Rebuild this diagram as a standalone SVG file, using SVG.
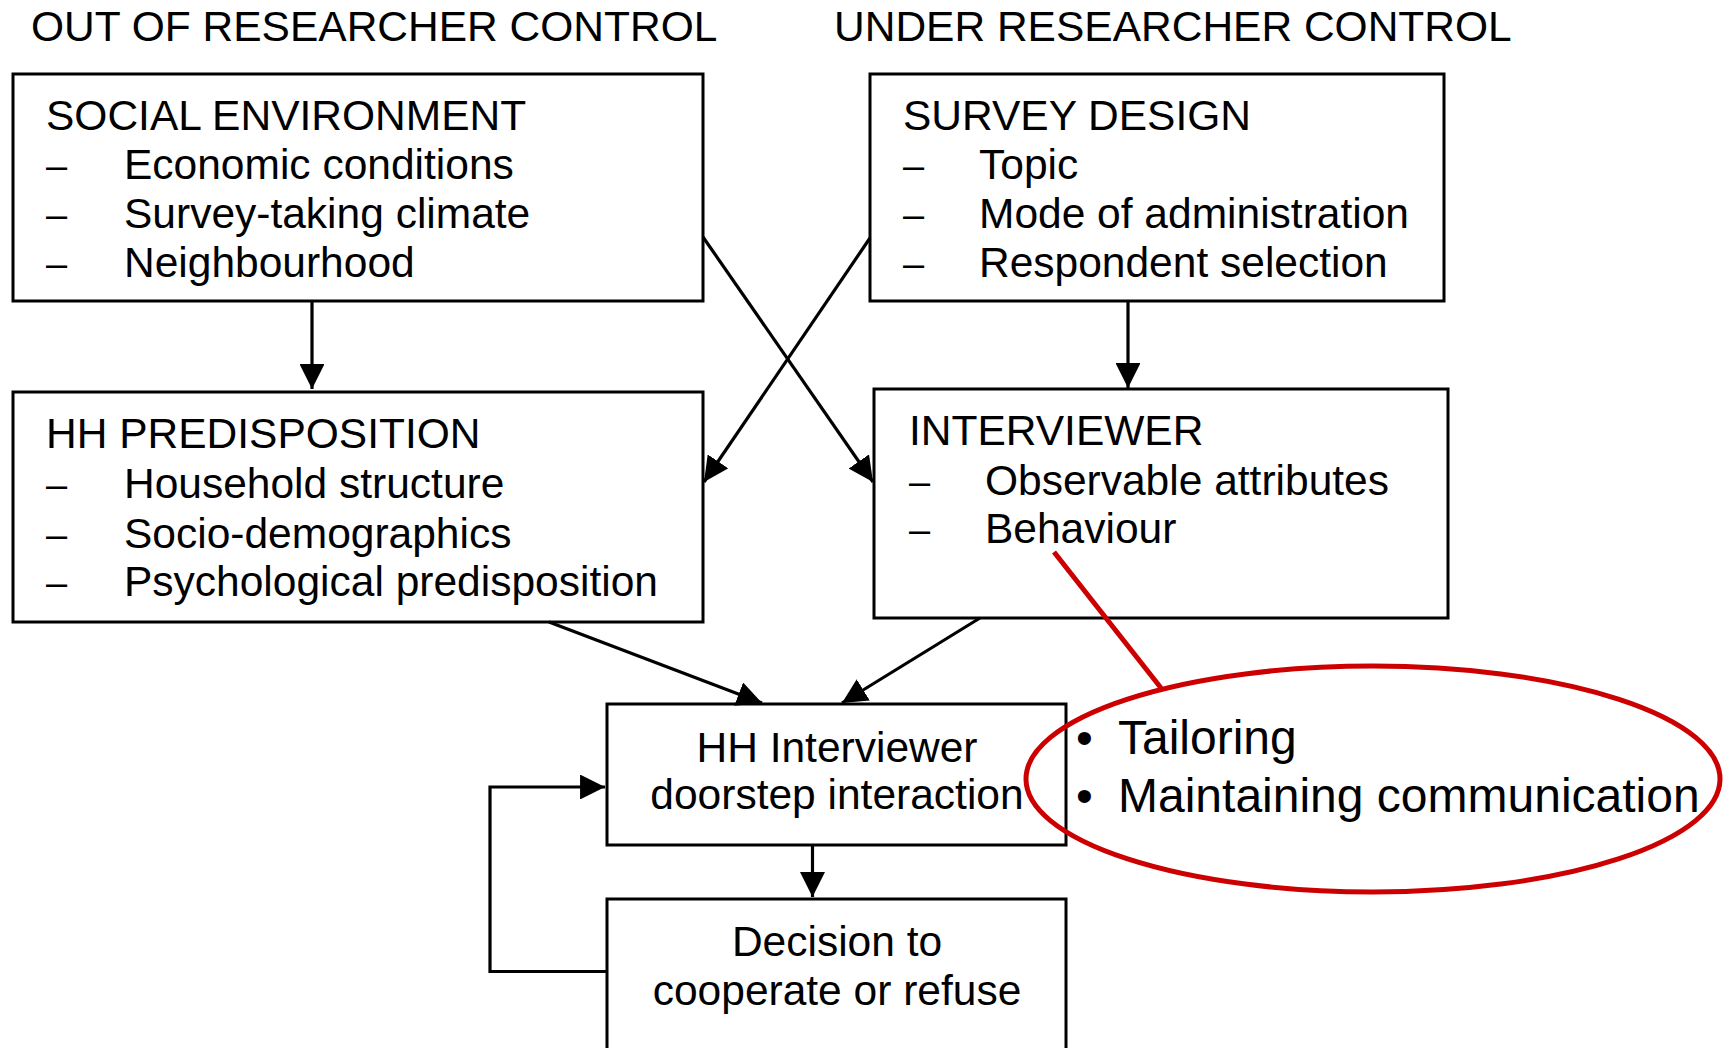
<svg xmlns="http://www.w3.org/2000/svg" width="1731" height="1048" viewBox="0 0 1731 1048">
<style>
text{font-family:"Liberation Sans",Arial,sans-serif;font-size:42.5px;fill:#000}
.box{fill:#fff;stroke:#000;stroke-width:3}
.dash{font-size:38px}
.mid{text-anchor:middle}
.big{font-size:48px}
.con{stroke:#000;stroke-width:3.2;fill:none}
.red{stroke:#cc0000;stroke-width:5;fill:none}
</style>
<defs>
<marker id="ah" viewBox="0 0 10 10" refX="10" refY="5" markerWidth="7.8" markerHeight="7.8" markerUnits="strokeWidth" orient="auto">
<path d="M0,0 L10,5 L0,10 z" fill="#000"/>
</marker>
</defs>
<rect width="1731" height="1048" fill="#fff"/>
<text x="31" y="41">OUT OF RESEARCHER CONTROL</text>
<text x="834" y="41">UNDER RESEARCHER CONTROL</text>

<g id="social">
<rect class="box" x="13" y="74" width="690" height="227"/>
<text x="46" y="130">SOCIAL ENVIRONMENT</text>
<text class="dash" x="46" y="179">–</text><text x="124" y="179">Economic conditions</text>
<text class="dash" x="46" y="228">–</text><text x="124" y="228">Survey-taking climate</text>
<text class="dash" x="46" y="277">–</text><text x="124" y="277">Neighbourhood</text>
</g>
<g id="survey">
<rect class="box" x="870" y="74" width="574" height="227"/>
<text x="903" y="130">SURVEY DESIGN</text>
<text class="dash" x="903" y="179">–</text><text x="979" y="179">Topic</text>
<text class="dash" x="903" y="228">–</text><text x="979" y="228">Mode of administration</text>
<text class="dash" x="903" y="277">–</text><text x="979" y="277">Respondent selection</text>
</g>
<g id="hhpred">
<rect class="box" x="13" y="392" width="690" height="230"/>
<text x="46" y="448">HH PREDISPOSITION</text>
<text class="dash" x="46" y="498">–</text><text x="124" y="498">Household structure</text>
<text class="dash" x="46" y="548">–</text><text x="124" y="548">Socio-demographics</text>
<text class="dash" x="46" y="596">–</text><text x="124" y="596">Psychological predisposition</text>
</g>
<g id="interviewer">
<rect class="box" x="874" y="389" width="574" height="229"/>
<text x="909" y="445">INTERVIEWER</text>
<text class="dash" x="909" y="495">–</text><text x="985" y="495">Observable attributes</text>
<text class="dash" x="909" y="543">–</text><text x="985" y="543">Behaviour</text>
</g>
<g id="interaction">
<rect class="box" x="607" y="704" width="459" height="141"/>
<text class="mid" x="837" y="762">HH Interviewer</text>
<text class="mid" x="837" y="809">doorstep interaction</text>
</g>
<g id="decision">
<rect class="box" x="607" y="899" width="459" height="160"/>
<text class="mid" x="837" y="956">Decision to</text>
<text class="mid" x="837" y="1005">cooperate or refuse</text>
</g>

<g id="connectors">
<line class="con" x1="312" y1="301" x2="312" y2="389" marker-end="url(#ah)"/>
<line class="con" x1="1128" y1="301" x2="1128" y2="388" marker-end="url(#ah)"/>
<line class="con" x1="703" y1="237" x2="873" y2="482" marker-end="url(#ah)"/>
<line class="con" x1="870" y1="238" x2="704" y2="482" marker-end="url(#ah)"/>
<line class="con" x1="549" y1="622" x2="762" y2="703" marker-end="url(#ah)"/>
<line class="con" x1="980" y1="618" x2="842" y2="703" marker-end="url(#ah)"/>
<line class="con" x1="812.5" y1="845" x2="812.5" y2="897" marker-end="url(#ah)"/>
<polyline class="con" points="607,971.5 490,971.5 490,787 605,787" marker-end="url(#ah)"/>
</g>

<g id="note">
<line class="red" x1="1054" y1="552" x2="1161" y2="688"/>
<ellipse class="red" cx="1373" cy="779" rx="347" ry="113"/>
<text class="big" x="1076" y="754">•</text>
<text class="big" x="1118" y="754">Tailoring</text>
<text class="big" x="1076" y="812">•</text>
<text class="big" x="1118" y="812">Maintaining communication</text>
</g>
</svg>
